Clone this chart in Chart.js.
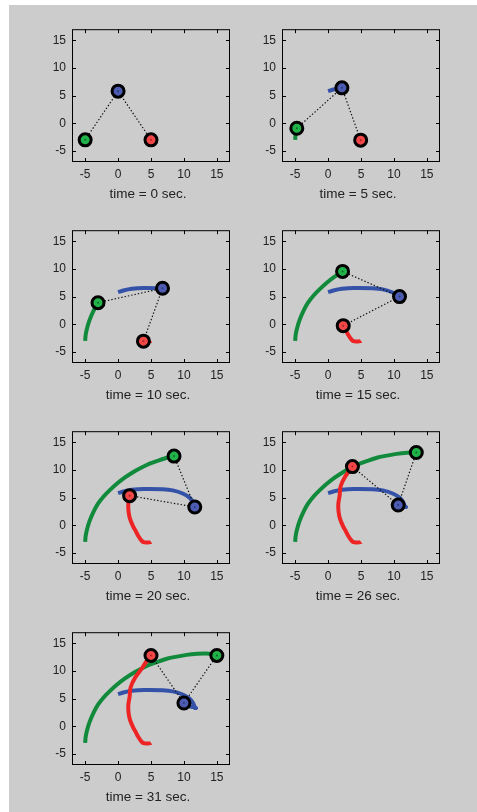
<!DOCTYPE html>
<html>
<head>
<meta charset="utf-8">
<script src="https://cdn.jsdelivr.net/npm/chart.js@4.4.0/dist/chart.umd.min.js"></script>
<style>
  html, body { margin:0; padding:0; background:#ffffff; width:477px; height:812px; overflow:hidden; }
  #panel { position:absolute; left:9px; top:5px; width:468px; height:807px; background:#cccccc; }
  .cell { position:absolute; width:229px; height:188px; }
  canvas { display:block; }
</style>
</head>
<body>
<div id="panel"></div>
<script>
// ---- data ----
const frameTimes = [0, 5, 10, 15, 20, 26, 31];
const xTicks = [-5, 0, 5, 10, 15];
const yTicks = [-5, 0, 5, 10, 15];

const greenT = [0, 3, 5, 7, 9, 10, 11, 12, 13, 14, 15, 16, 17, 18, 19, 20, 22, 24, 26, 28, 31];
const greenX = [-5, -4.93, -4.75, -4.35, -3.7, -3.05, -2.2, -1.3, -0.2, 1.0, 2.2, 3.5, 4.8, 6.1, 7.4, 8.5, 10.4, 12.0, 13.4, 14.3, 15];
const greenY = [-3, -2, -0.9, 0.7, 2.5, 3.9, 5.2, 6.3, 7.5, 8.6, 9.55, 10.4, 11.15, 11.7, 12.2, 12.5, 12.9, 13.1, 13.15, 13.05, 12.8];

const blueT = [0, 2, 5, 7, 10, 12, 14, 15, 17, 19, 20, 22, 24, 26, 28, 31];
const blueX = [0, 0.8, 2.1, 3.9, 6.75, 8.3, 9.9, 10.85, 11.35, 11.6, 11.65, 11.85, 11.4, 10.65, 10.3, 10];
const blueY = [5.8, 6.1, 6.4, 6.55, 6.5, 6.3, 5.7, 5.0, 4.3, 3.6, 3.3, 3.3, 3.45, 3.65, 3.9, 4.2];

const redT = [0, 5, 8, 10, 12, 13, 14, 15, 17, 18, 19, 20, 22, 24, 26, 28, 31];
const redX = [5, 4.95, 4.5, 3.85, 3.45, 3.05, 2.7, 2.3, 1.8, 1.6, 1.55, 1.75, 1.9, 2.6, 3.7, 4.4, 5];
const redY = [-3, -3.05, -3.1, -3.05, -2.6, -1.9, -1.1, -0.25, 1.2, 2.4, 3.8, 5.35, 7.0, 8.8, 10.6, 11.9, 12.8];

// ---- layout ----
const colLeft = [72, 282];
const rowTop = [24, 225, 426, 627];
const PADL = 62, PADT = 8, PADR = 8, PADB = 42;

const trailColors = { green: '#118a3c', blue: '#3452a8', red: '#ee2424' };
const fillColors = { green: '#22b24a', blue: '#4d5cb0', red: '#f04848' };
const dotColors = { green: '#0c6a2a', blue: '#263a88', red: '#b02020' };

function trail(T, X, Y, time) {
  const pts = [];
  for (let i = 0; i < T.length; i++) if (T[i] <= time) pts.push({ x: X[i], y: Y[i] });
  return pts;
}
function posAt(T, X, Y, time) {
  const i = T.indexOf(time);
  return { x: X[i], y: Y[i] };
}

const matlabAxes = {
  id: 'matlabAxes',
  afterDraw(chart, args, opts) {
    const { ctx, chartArea: a, scales: { x, y } } = chart;
    ctx.save();
    ctx.strokeStyle = '#000';
    ctx.lineWidth = 1;
    ctx.strokeRect(a.left + 0.5, a.top + 0.5, a.right - a.left - 1, a.bottom - a.top - 1);
    ctx.beginPath();
    const tl = 4;
    x.ticks.forEach(t => {
      const px = Math.round(x.getPixelForValue(t.value)) + 0.5;
      ctx.moveTo(px, a.bottom); ctx.lineTo(px, a.bottom - tl);
      ctx.moveTo(px, a.top); ctx.lineTo(px, a.top + tl);
    });
    y.ticks.forEach(t => {
      const py = Math.round(y.getPixelForValue(t.value)) + 0.5;
      ctx.moveTo(a.left, py); ctx.lineTo(a.left + tl, py);
      ctx.moveTo(a.right, py); ctx.lineTo(a.right - tl, py);
    });
    ctx.stroke();
    ctx.fillStyle = '#222';
    ctx.font = '13.5px "Liberation Sans", Arial, sans-serif';
    ctx.textAlign = 'center';
    ctx.textBaseline = 'middle';
    ctx.fillText(opts.text, (a.left + a.right) / 2 - 3, a.bottom + 32);
    ctx.restore();
  }
};

frameTimes.forEach((time, k) => {
  const col = k % 2, row = Math.floor(k / 2);
  const div = document.createElement('div');
  div.className = 'cell';
  div.style.left = (colLeft[col] - PADL) + 'px';
  div.style.top = (rowTop[row] - PADT) + 'px';
  const cv = document.createElement('canvas');
  cv.width = 229; cv.height = 188;
  div.appendChild(cv);
  document.body.appendChild(div);

  const g = posAt(greenT, greenX, greenY, time);
  const b = posAt(blueT, blueX, blueY, time);
  const r = posAt(redT, redX, redY, time);

  const lineDs = (data, color) => ({
    data, showLine: true, borderColor: color, borderWidth: 4, pointRadius: 0,
    tension: 0.3, borderCapStyle: 'butt', borderJoinStyle: 'round', fill: false
  });

  new Chart(cv, {
    type: 'scatter',
    data: {
      datasets: [
        {
          data: [g, b, r], showLine: false,
          pointRadius: 1, pointBorderWidth: 0,
          pointBackgroundColor: [dotColors.green, dotColors.blue, dotColors.red]
        },
        {
          data: [g, b, r],
          pointRadius: 6, pointBorderWidth: 3, pointBorderColor: '#000',
          pointBackgroundColor: [fillColors.green, fillColors.blue, fillColors.red],
          showLine: false
        },
        {
          data: [g, b, r], showLine: true, borderColor: '#111', borderWidth: 1.2,
          borderDash: [1.4, 2], pointRadius: 0, tension: 0
        },
        lineDs(trail(redT, redX, redY, time), trailColors.red),
        lineDs(trail(blueT, blueX, blueY, time), trailColors.blue),
        lineDs(trail(greenT, greenX, greenY, time), trailColors.green)
      ]
    },
    options: {
      responsive: false,
      animation: false,
      devicePixelRatio: 1,
      events: [],
      layout: { padding: { left: 0, top: PADT, right: PADR, bottom: 0 } },
      plugins: {
        legend: { display: false },
        tooltip: { enabled: false },
        matlabAxes: { text: 'time = ' + time + ' sec.' }
      },
      scales: {
        x: {
          type: 'linear', min: -7, max: 17,
          afterBuildTicks: s => { s.ticks = xTicks.map(v => ({ value: v })); },
          afterFit: s => { s.height = PADB; },
          grid: { display: false, drawTicks: false },
          border: { display: false },
          ticks: { padding: 5, color: '#222', font: { family: '"Liberation Sans", Arial, sans-serif', size: 12 } }
        },
        y: {
          type: 'linear', min: -7, max: 17,
          afterBuildTicks: s => { s.ticks = yTicks.map(v => ({ value: v })); },
          afterFit: s => { s.width = PADL; },
          grid: { display: false, drawTicks: false },
          border: { display: false },
          ticks: { padding: 6, color: '#222', font: { family: '"Liberation Sans", Arial, sans-serif', size: 12 } }
        }
      }
    },
    plugins: [matlabAxes]
  });
});
</script>
</body>
</html>
